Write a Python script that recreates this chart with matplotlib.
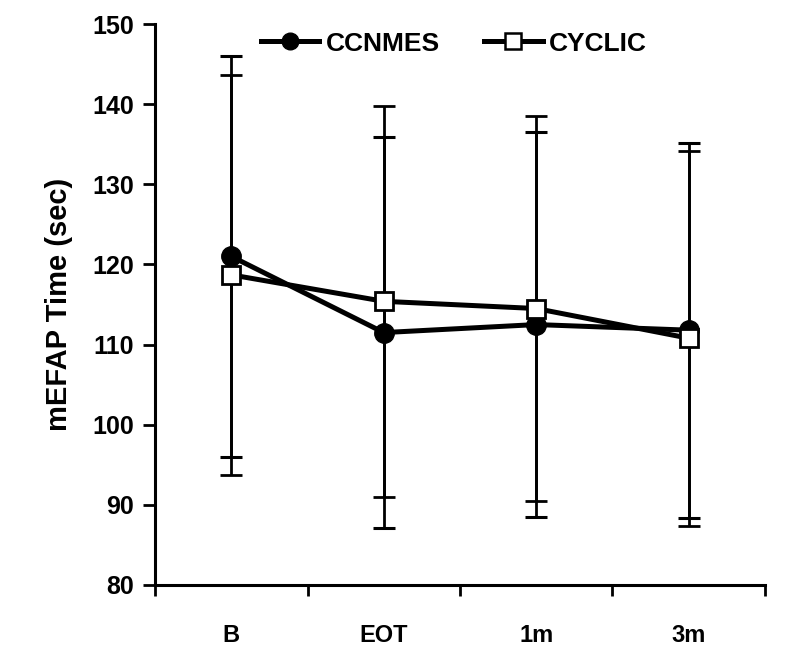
import matplotlib
matplotlib.use("Agg")
import matplotlib.pyplot as plt
from matplotlib.lines import Line2D
import numpy as np

plt.rcParams["font.family"] = ["Liberation Sans", "DejaVu Sans"]
plt.rcParams["font.weight"] = "bold"

categories = ["B", "EOT", "1m", "3m"]
ccnmes_mean = [121.0, 111.5, 112.5, 111.8]
ccnmes_sd = [25.0, 24.4, 24.0, 23.4]
cyclic_mean = [118.7, 115.4, 114.5, 110.8]
cyclic_sd = [25.0, 24.4, 24.0, 23.4]

x = np.arange(len(categories)) + 0.5

fig = plt.figure(figsize=(8, 6.5), dpi=100)
ax = fig.add_axes([0.194, 0.1, 0.762, 0.863])

ax.errorbar(x, ccnmes_mean, yerr=ccnmes_sd, color="black", lw=3.6,
            marker="o", ms=14, mfc="black", mec="black",
            ecolor="black", elinewidth=2, capsize=8, capthick=2.2,
            zorder=3)
ax.errorbar(x, cyclic_mean, yerr=cyclic_sd, color="black", lw=3.6,
            marker="s", ms=12.5, mfc="white", mec="black", mew=2,
            ecolor="black", elinewidth=2, capsize=8, capthick=2.2,
            zorder=4)

ax.set_xlim(0, 4)
ax.set_ylim(80, 150)
ax.set_yticks(range(80, 151, 10))
ax.set_xticks([0, 1, 2, 3, 4])
ax.set_xticklabels([])
ax.set_xticks(x, minor=True)
ax.set_xticklabels(categories, minor=True, fontsize=17, fontweight="bold")
ax.tick_params(axis="x", which="minor", length=0, pad=28)
ax.tick_params(axis="x", which="major", direction="out", length=8, width=2)
ax.tick_params(axis="y", direction="out", length=9, width=2,
               labelsize=18, pad=6)
for lab in ax.get_yticklabels():
    lab.set_fontweight("bold")

for s in ("top", "right"):
    ax.spines[s].set_visible(False)
for s in ("left", "bottom"):
    ax.spines[s].set_linewidth(2.2)

ax.set_ylabel("mEFAP Time (sec)", fontsize=21, fontweight="bold", labelpad=14)

handles = [
    Line2D([], [], color="black", lw=3.6, marker="o", ms=12,
           mfc="black", mec="black"),
    Line2D([], [], color="black", lw=3.6, marker="s", ms=11,
           mfc="white", mec="black", mew=1.8),
]
leg = ax.legend(handles, ["CCNMES", "CYCLIC"], loc="center",
                ncol=2, frameon=False, bbox_to_anchor=(0.49, 0.965),
                fontsize=19, handlelength=2.2, columnspacing=1.7,
                handletextpad=0.25, borderaxespad=0)
for t in leg.get_texts():
    t.set_fontweight("bold")

fig.savefig("out.png", dpi=100)
